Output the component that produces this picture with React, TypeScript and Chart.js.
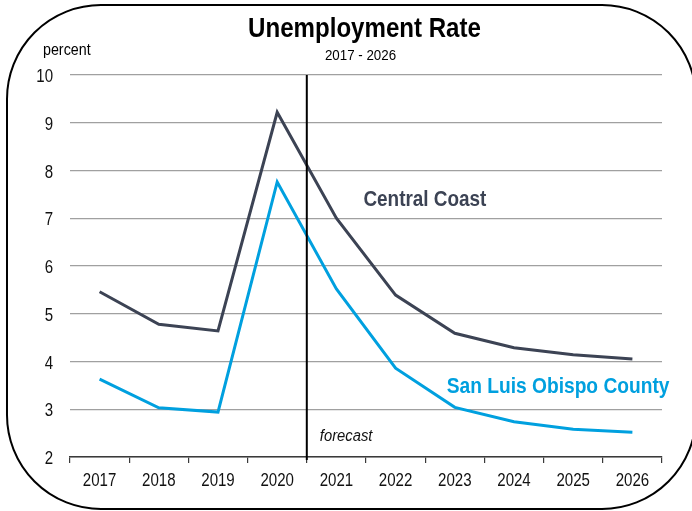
import React, { useEffect, useRef } from 'react';
import { Chart, registerables } from 'chart.js';

Chart.register(...registerables);

const years = ['2017', '2018', '2019', '2020', '2021', '2022', '2023', '2024', '2025', '2026'];
const centralCoast = [5.46, 4.78, 4.64, 9.22, 7.0, 5.39, 4.59, 4.29, 4.14, 4.05];
const sloCounty = [3.63, 3.03, 2.94, 7.76, 5.52, 3.86, 3.04, 2.74, 2.58, 2.52];
const yMin = 2;
const yMax = 10;
const yStep = 1;
const forecastAfterIndex = 3;

const titleText = 'Unemployment Rate';
const subtitleText = '2017 - 2026';
const unitText = 'percent';
const forecastText = 'forecast';
const centralLabel = 'Central Coast';
const sloLabel = 'San Luis Obispo County';

const CENTRAL_COLOR = '#3c4354';
const SLO_COLOR = '#00a0df';
const FONT = '"Liberation Sans", Arial, sans-serif';
const SX = 0.86;

function narrowText(
  ctx: CanvasRenderingContext2D,
  text: string,
  x: number,
  y: number,
  font: string,
  color: string,
  align: CanvasTextAlign
) {
  ctx.save();
  ctx.translate(x, y);
  ctx.scale(SX, 1);
  ctx.font = font;
  ctx.fillStyle = color;
  ctx.textAlign = align;
  ctx.textBaseline = 'alphabetic';
  ctx.fillText(text, 0, 0);
  ctx.restore();
}

export default function App() {
  const ref = useRef<HTMLCanvasElement>(null);

  useEffect(() => {
    const canvas = ref.current;
    if (!canvas) return;

    const decor = {
      id: 'decor',
      beforeDraw(chart: any) {
        const ctx = chart.ctx;
        ctx.save();
        ctx.fillStyle = '#ffffff';
        ctx.fillRect(0, 0, chart.width, chart.height);
        ctx.strokeStyle = '#000000';
        ctx.lineWidth = 2;
        ctx.beginPath();
        (ctx as any).roundRect(7, 5, 689, 504, 94);
        ctx.stroke();
        ctx.restore();
      },
      afterDatasetsDraw(chart: any) {
        const ctx = chart.ctx;
        const xs = chart.scales.x;
        const area = chart.chartArea;
        const x = (xs.getPixelForValue(forecastAfterIndex) + xs.getPixelForValue(forecastAfterIndex + 1)) / 2;
        ctx.save();
        ctx.strokeStyle = '#000000';
        ctx.lineWidth = 2;
        ctx.beginPath();
        ctx.moveTo(x, area.top);
        ctx.lineTo(x, area.bottom + 3);
        ctx.stroke();
        ctx.restore();
      },
      afterDraw(chart: any) {
        const ctx = chart.ctx as CanvasRenderingContext2D;
        const xs = chart.scales.x;
        const ys = chart.scales.y;
        const area = chart.chartArea;

        narrowText(ctx, titleText, 364.5, 37, `bold 28px ${FONT}`, '#000', 'center');
        narrowText(ctx, subtitleText, 360.5, 59.5, `15.5px ${FONT}`, '#000', 'center');
        narrowText(ctx, unitText, 43, 54.5, `16.6px ${FONT}`, '#000', 'left');

        // y tick labels
        ys.ticks.forEach((t: any) => {
          const py = ys.getPixelForValue(t.value);
          narrowText(ctx, String(t.value), area.left - 17, py + 7, `17.5px ${FONT}`, '#111', 'right');
        });
        // x tick labels
        chart.data.labels.forEach((lab: string, i: number) => {
          narrowText(ctx, lab, xs.getPixelForValue(i), area.bottom + 29, `17.5px ${FONT}`, '#111', 'center');
        });

        const fx = (xs.getPixelForValue(forecastAfterIndex) + xs.getPixelForValue(forecastAfterIndex + 1)) / 2;
        narrowText(ctx, forecastText, fx + 13, area.bottom - 16.5, `italic 17.2px ${FONT}`, '#111', 'left');

        narrowText(ctx, centralLabel, xs.getPixelForValue(4) + 27, ys.getPixelForValue(7.26), `bold 22px ${FONT}`, CENTRAL_COLOR, 'left');
        narrowText(ctx, sloLabel, xs.getPixelForValue(6) - 8, ys.getPixelForValue(3.35), `bold 22.3px ${FONT}`, SLO_COLOR, 'left');
      },
    };

    const chart = new Chart(canvas, {
      type: 'line',
      data: {
        labels: years,
        datasets: [
          {
            label: centralLabel,
            data: centralCoast,
            borderColor: CENTRAL_COLOR,
            backgroundColor: CENTRAL_COLOR,
            borderWidth: 3,
            pointRadius: 0,
            tension: 0,
            fill: false,
          },
          {
            label: sloLabel,
            data: sloCounty,
            borderColor: SLO_COLOR,
            backgroundColor: SLO_COLOR,
            borderWidth: 3,
            pointRadius: 0,
            tension: 0,
            fill: false,
          },
        ],
      },
      options: {
        responsive: false,
        animation: false,
        events: [],
        layout: { padding: { left: 8, top: 75, right: 30, bottom: 0 } },
        plugins: {
          legend: { display: false },
          tooltip: { enabled: false },
          title: { display: false },
        },
        scales: {
          x: {
            type: 'category',
            offset: true,
            grid: {
              display: true,
              offset: true,
              drawOnChartArea: false,
              drawTicks: true,
              tickLength: 6,
              color: '#3a3a3a',
              lineWidth: 1.2,
            },
            border: { display: true, color: '#3a3a3a', width: 1.5 },
            ticks: { display: false, autoSkip: false, maxRotation: 0 },
            afterFit(scale: any) {
              scale.height = 54;
            },
          },
          y: {
            min: yMin,
            max: yMax,
            grid: {
              display: true,
              drawTicks: false,
              color: '#a0a0a0',
              lineWidth: 1.2,
            },
            border: { display: false },
            ticks: { display: false, stepSize: yStep },
            afterFit(scale: any) {
              scale.width = 62;
            },
          },
        },
      },
      plugins: [decor],
    } as any);

    return () => chart.destroy();
  }, []);

  return (
    <div style={{ position: 'fixed', left: 0, top: 0, width: 692, height: 511, background: '#fff' }}>
      <canvas ref={ref} width={692} height={511} style={{ display: 'block', width: 692, height: 511 }} />
    </div>
  );
}
